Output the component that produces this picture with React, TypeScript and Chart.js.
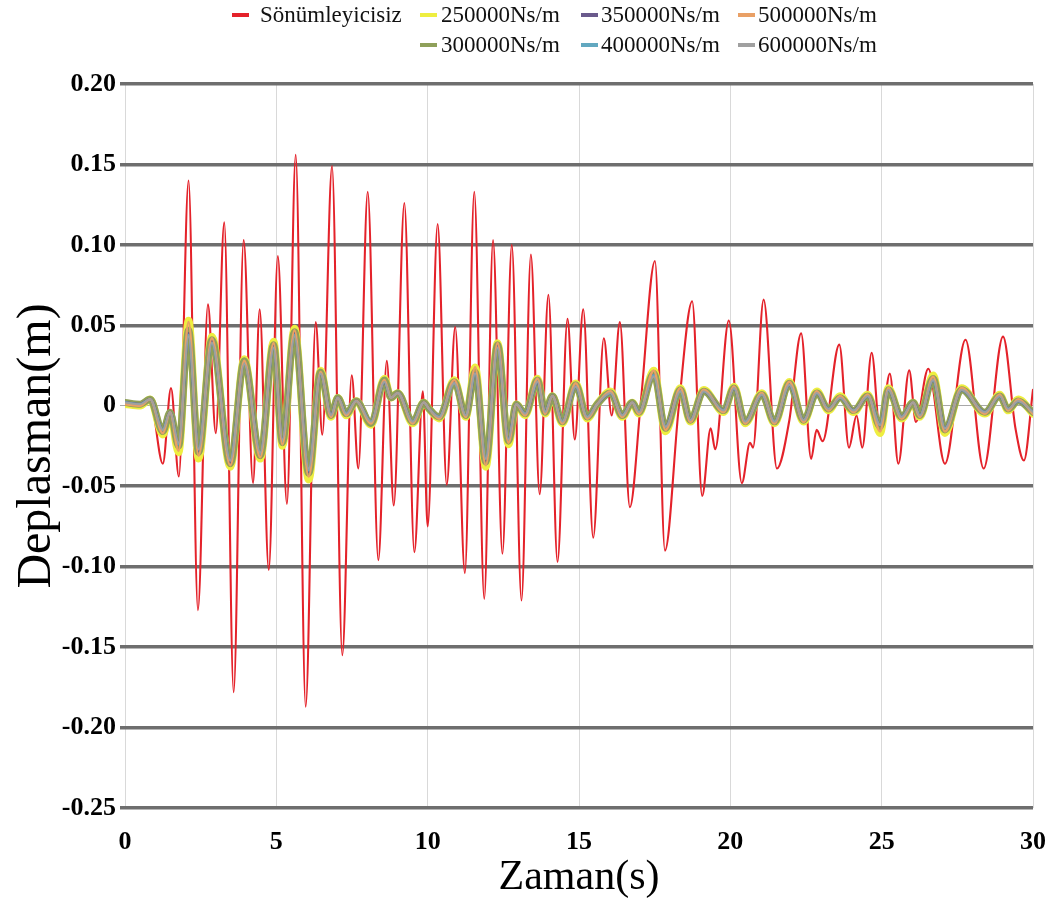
import React, { useEffect, useRef } from 'react';
import { Chart, registerables } from 'chart.js';

Chart.register(...registerables);

// ---- Data ----
const redTimes = [
  0, 0.5, 0.83, 1.25, 1.52, 1.78, 2.1, 2.41, 2.74, 3.0, 3.28, 3.59, 3.92, 4.23, 4.45, 4.75,
  5.05, 5.35, 5.64, 5.97, 6.3, 6.52, 6.84, 7.18, 7.49, 7.71, 8.02, 8.37, 8.65, 8.88, 9.23, 9.56,
  9.84, 10.0, 10.33, 10.63, 10.91, 11.23, 11.54, 11.87, 12.16, 12.47, 12.78, 13.1, 13.41, 13.7,
  13.99, 14.29, 14.62, 14.86, 15.14, 15.47, 15.82, 16.08, 16.35, 16.68, 17.05, 17.51, 17.84,
  18.3, 18.74, 19.07, 19.35, 19.5, 19.95, 20.38, 20.65, 20.75, 21.1, 21.54, 21.95, 22.34, 22.67,
  22.85, 23.05, 23.6, 23.92, 24.17, 24.36, 24.67, 24.95, 25.27, 25.55, 25.91, 26.13, 26.54,
  27.09, 27.77, 28.37, 29.01, 29.42, 29.7, 30.0,
];
const redValues = [
  0.001, 0.001, 0.004, -0.036, 0.011, -0.044, 0.14, -0.127, 0.063, -0.017, 0.114, -0.178, 0.103, -0.048, 0.06, -0.102,
  0.093, -0.061, 0.156, -0.187, 0.052, -0.018, 0.149, -0.155, 0.019, -0.039, 0.133, -0.096, 0.028, -0.062, 0.126, -0.091,
  0.009, -0.075, 0.113, -0.049, 0.049, -0.104, 0.133, -0.12, 0.103, -0.092, 0.1, -0.121, 0.094, -0.055,
  0.069, -0.097, 0.054, -0.021, 0.06, -0.082, 0.042, -0.006, 0.052, -0.063, 0.004, 0.09, -0.09,
  0.0, 0.065, -0.056, -0.014, -0.027, 0.053, -0.048, -0.023, -0.026, 0.066, -0.039, -0.009, 0.045, -0.033,
  -0.015, -0.022, 0.038, -0.026, -0.006, -0.026, 0.033, -0.017, 0.02, -0.036, 0.022, -0.01, 0.023,
  -0.036, 0.041, -0.039, 0.043, -0.014, -0.034, 0.01,
];

const dampedTimes = [
  0, 0.5, 0.83, 1.25, 1.49, 1.77, 2.1, 2.43, 2.87, 3.48, 3.94, 4.47, 4.91, 5.2, 5.6, 6.07,
  6.46, 6.81, 7.03, 7.31, 7.64, 8.13, 8.57, 8.79, 9.01, 9.51, 9.87, 10.05, 10.38, 10.88, 11.26,
  11.57, 11.92, 12.31, 12.67, 12.93, 13.22, 13.63, 13.88, 14.12, 14.45, 14.89, 15.27, 15.6,
  16.04, 16.43, 16.76, 16.98, 17.47, 17.86, 18.35, 18.68, 19.12, 19.78, 20.12, 20.49, 21.04,
  21.46, 21.95, 22.42, 22.86, 23.24, 23.63, 24.07, 24.54, 24.95, 25.22, 25.66, 26.04, 26.26,
  26.7, 27.09, 27.64, 28.41, 28.9, 29.18, 29.51, 30.0,
];
const values250 = [
  0.001, 0.0, 0.004, -0.018, -0.005, -0.029, 0.053, -0.033, 0.043, -0.038, 0.029, -0.033, 0.04, -0.025, 0.048, -0.046,
  0.022, -0.007, 0.005, -0.006, 0.003, -0.012, 0.017, 0.005, 0.008, -0.011, 0.002, -0.002, -0.008, 0.016, -0.007,
  0.024, -0.038, 0.039, -0.024, 0.001, -0.006, 0.017, -0.005, 0.006, -0.011, 0.014, -0.008, 0.001,
  0.009, -0.007, 0.002, -0.005, 0.022, -0.016, 0.011, -0.01, 0.01, -0.004, 0.012, -0.011, 0.008,
  -0.011, 0.015, -0.01, 0.009, -0.003, 0.006, -0.004, 0.007, -0.017, 0.011, -0.008, 0.002, -0.007,
  0.019, -0.017, 0.011, -0.005, 0.007, -0.003, 0.004, -0.005,
];
const values300 = [
  0.002, 0.001, 0.004, -0.016, -0.004, -0.025, 0.047, -0.029, 0.041, -0.036, 0.028, -0.031, 0.038, -0.023, 0.046, -0.042,
  0.021, -0.006, 0.005, -0.005, 0.003, -0.011, 0.016, 0.005, 0.008, -0.01, 0.002, -0.002, -0.007, 0.015, -0.006,
  0.021, -0.035, 0.038, -0.022, 0.001, -0.005, 0.016, -0.004, 0.006, -0.01, 0.013, -0.007, 0.001,
  0.008, -0.006, 0.002, -0.004, 0.02, -0.014, 0.01, -0.009, 0.009, -0.003, 0.011, -0.01, 0.007,
  -0.01, 0.014, -0.009, 0.008, -0.002, 0.005, -0.003, 0.006, -0.013, 0.01, -0.007, 0.002, -0.006,
  0.017, -0.015, 0.01, -0.004, 0.006, -0.002, 0.003, -0.004,
];
const values350 = [
  0.002, 0.001, 0.004, -0.015, -0.004, -0.024, 0.045, -0.028, 0.04, -0.035, 0.027, -0.03, 0.037, -0.022, 0.045, -0.041,
  0.02, -0.006, 0.005, -0.005, 0.003, -0.01, 0.015, 0.005, 0.008, -0.01, 0.002, -0.002, -0.007, 0.015, -0.006,
  0.02, -0.034, 0.037, -0.021, 0.001, -0.005, 0.015, -0.004, 0.006, -0.01, 0.012, -0.007, 0.001,
  0.008, -0.006, 0.002, -0.004, 0.019, -0.013, 0.01, -0.009, 0.009, -0.003, 0.011, -0.01, 0.007,
  -0.01, 0.013, -0.009, 0.008, -0.002, 0.005, -0.003, 0.006, -0.012, 0.01, -0.007, 0.002, -0.006,
  0.016, -0.014, 0.01, -0.004, 0.006, -0.002, 0.003, -0.004,
];
const values400 = [
  0.002, 0.001, 0.004, -0.015, -0.004, -0.024, 0.044, -0.027, 0.039, -0.034, 0.027, -0.03, 0.036, -0.022, 0.044, -0.04,
  0.02, -0.006, 0.005, -0.005, 0.003, -0.01, 0.015, 0.005, 0.008, -0.01, 0.002, -0.002, -0.007, 0.014, -0.006,
  0.02, -0.033, 0.036, -0.021, 0.001, -0.005, 0.015, -0.004, 0.006, -0.01, 0.012, -0.007, 0.001,
  0.008, -0.006, 0.002, -0.004, 0.019, -0.013, 0.009, -0.009, 0.009, -0.003, 0.011, -0.01, 0.007,
  -0.01, 0.013, -0.009, 0.008, -0.002, 0.005, -0.003, 0.006, -0.012, 0.01, -0.007, 0.002, -0.006,
  0.016, -0.014, 0.01, -0.004, 0.006, -0.002, 0.003, -0.004,
];
const values500 = [
  0.001, 0.0, 0.004, -0.017, -0.004, -0.028, 0.052, -0.031, 0.042, -0.037, 0.028, -0.032, 0.039, -0.024, 0.047, -0.044,
  0.021, -0.007, 0.005, -0.006, 0.003, -0.011, 0.016, 0.005, 0.008, -0.011, 0.002, -0.002, -0.008, 0.016, -0.007,
  0.024, -0.037, 0.039, -0.023, 0.001, -0.006, 0.017, -0.005, 0.006, -0.011, 0.014, -0.008, 0.001,
  0.009, -0.007, 0.002, -0.005, 0.022, -0.015, 0.011, -0.01, 0.01, -0.004, 0.012, -0.011, 0.008,
  -0.011, 0.015, -0.01, 0.009, -0.003, 0.006, -0.004, 0.007, -0.016, 0.011, -0.008, 0.002, -0.007,
  0.018, -0.016, 0.011, -0.005, 0.007, -0.003, 0.004, -0.005,
];
const values600 = [
  0.002, 0.001, 0.004, -0.015, -0.004, -0.023, 0.043, -0.027, 0.039, -0.034, 0.026, -0.029, 0.036, -0.021, 0.043, -0.039,
  0.02, -0.006, 0.005, -0.005, 0.003, -0.01, 0.015, 0.005, 0.008, -0.01, 0.002, -0.002, -0.007, 0.014, -0.006,
  0.02, -0.033, 0.036, -0.021, 0.001, -0.005, 0.015, -0.004, 0.006, -0.01, 0.012, -0.007, 0.001,
  0.008, -0.006, 0.002, -0.004, 0.018, -0.013, 0.009, -0.009, 0.009, -0.003, 0.011, -0.01, 0.007,
  -0.01, 0.013, -0.009, 0.008, -0.002, 0.005, -0.003, 0.006, -0.012, 0.01, -0.007, 0.002, -0.006,
  0.016, -0.014, 0.01, -0.004, 0.006, -0.002, 0.003, -0.004,
];

const seriesLabels = [
  'Sönümleyicisiz',
  '250000Ns/m',
  '300000Ns/m',
  '350000Ns/m',
  '400000Ns/m',
  '500000Ns/m',
  '600000Ns/m',
];
const seriesColors = ['#e4222a', '#eeee40', '#8fa05a', '#6a5a8c', '#62a8c0', '#e9a066', '#a0a0a0'];

const xTickValues = [0, 5, 10, 15, 20, 25, 30];
const yTickValues = [0.2, 0.15, 0.1, 0.05, 0, -0.05, -0.1, -0.15, -0.2, -0.25];
const yTickLabels = ['0.20', '0.15', '0.10', '0.05', '0', '-0.05', '-0.10', '-0.15', '-0.20', '-0.25'];

const xTitle = 'Zaman(s)';
const yTitle = 'Deplasman(m)';

const SERIF = '"Liberation Serif", "Times New Roman", serif';

// legend layout (column-major like the original)
const legendLayout = [
  { idx: 0, mx: 232, tx: 260, y: 15 },
  { idx: 1, mx: 420, tx: 441, y: 15 },
  { idx: 3, mx: 581, tx: 601, y: 15 },
  { idx: 5, mx: 738, tx: 758, y: 15 },
  { idx: 2, mx: 420, tx: 441, y: 45 },
  { idx: 4, mx: 581, tx: 601, y: 45 },
  { idx: 6, mx: 738, tx: 758, y: 45 },
];

const pts = (times: number[], vals: number[]) => times.map((t, i) => ({ x: t, y: vals[i] }));

export default function App() {
  const ref = useRef<HTMLCanvasElement | null>(null);

  useEffect(() => {
    if (!ref.current) return;
    const dampedVals = [values250, values300, values350, values400, values500, values600];
    const widths = [2.1, 7.5, 7, 3, 2.5, 2.5, 2];
    const datasets: any[] = [
      {
        label: seriesLabels[0],
        data: pts(redTimes, redValues),
        borderColor: seriesColors[0],
        borderWidth: widths[0],
        order: 10,
      },
    ];
    dampedVals.forEach((vals, i) => {
      datasets.push({
        label: seriesLabels[i + 1],
        data: pts(dampedTimes, vals),
        borderColor: seriesColors[i + 1],
        borderWidth: widths[i + 1],
        order: 9 - i,
      });
    });

    const chart = new Chart(ref.current, {
      type: 'line',
      data: { datasets },
      options: {
        responsive: false,
        animation: false,
        devicePixelRatio: 1,
        layout: { padding: { top: 84, right: 19, bottom: 4, left: 0 } },
        plugins: { legend: { display: false }, tooltip: { enabled: false } },
        elements: {
          point: { radius: 0 },
          line: { cubicInterpolationMode: 'monotone', borderCapStyle: 'round', borderJoinStyle: 'round' },
        },
        scales: {
          x: {
            type: 'linear',
            min: 0,
            max: 30,
            afterBuildTicks: (s: any) => {
              s.ticks = xTickValues.map((v) => ({ value: v }));
            },
            afterFit: (s: any) => {
              s.height = 95;
            },
            ticks: {
              color: '#000',
              font: { family: SERIF, size: 26, weight: 'bold' },
              padding: 2,
              maxRotation: 0,
              autoSkip: false,
            },
            grid: {
              color: '#d9d9d9',
              lineWidth: 1,
              drawTicks: true,
              tickLength: 17,
              tickColor: 'rgba(0,0,0,0)',
            },
            border: { display: false },
            title: {
              display: true,
              text: xTitle,
              color: '#000',
              font: { family: SERIF, size: 42, weight: 'normal' },
              padding: { top: 0, bottom: 0 },
            },
          },
          y: {
            type: 'linear',
            min: -0.25,
            max: 0.2,
            afterBuildTicks: (s: any) => {
              s.ticks = yTickValues.map((v) => ({ value: v }));
            },
            afterFit: (s: any) => {
              s.width = 125;
            },
            ticks: {
              color: '#000',
              font: { family: SERIF, size: 26, weight: 'bold' },
              padding: 4,
              autoSkip: false,
              callback: (v: any) => {
                const i = yTickValues.findIndex((t) => Math.abs(t - Number(v)) < 1e-9);
                return i >= 0 ? yTickLabels[i] : '';
              },
            },
            grid: {
              color: (c: any) => (c.tick && Math.abs(c.tick.value) < 1e-9 ? '#a8a8a8' : '#6e6e6e'),
              lineWidth: (c: any) => (c.tick && Math.abs(c.tick.value) < 1e-9 ? 1 : 3.5),
              tickLength: 5,
              drawTicks: true,
            },
            border: { display: false },
            title: {
              display: true,
              text: yTitle,
              color: '#000',
              font: { family: SERIF, size: 48, weight: 'normal' },
              padding: { top: 9, bottom: 0 },
            },
          },
        },
      },
    });
    return () => chart.destroy();
  }, []);

  return (
    <div style={{ position: 'absolute', left: 0, top: 0, width: 1052, height: 907, background: '#fff', overflow: 'hidden' }}>
      <canvas ref={ref} width={1052} height={907} style={{ position: 'absolute', left: 0, top: 0, width: 1052, height: 907 }} />
      {legendLayout.map((it) => (
        <React.Fragment key={it.idx}>
          <div
            style={{
              position: 'absolute',
              left: it.mx,
              top: it.y - 2,
              width: 17,
              height: 4,
              background: seriesColors[it.idx],
            }}
          />
          <div
            style={{
              position: 'absolute',
              left: it.tx,
              top: it.y - 14,
              height: 28,
              lineHeight: '28px',
              fontFamily: SERIF,
              fontSize: 23,
              color: '#111',
              whiteSpace: 'nowrap',
            }}
          >
            {seriesLabels[it.idx]}
          </div>
        </React.Fragment>
      ))}
    </div>
  );
}
